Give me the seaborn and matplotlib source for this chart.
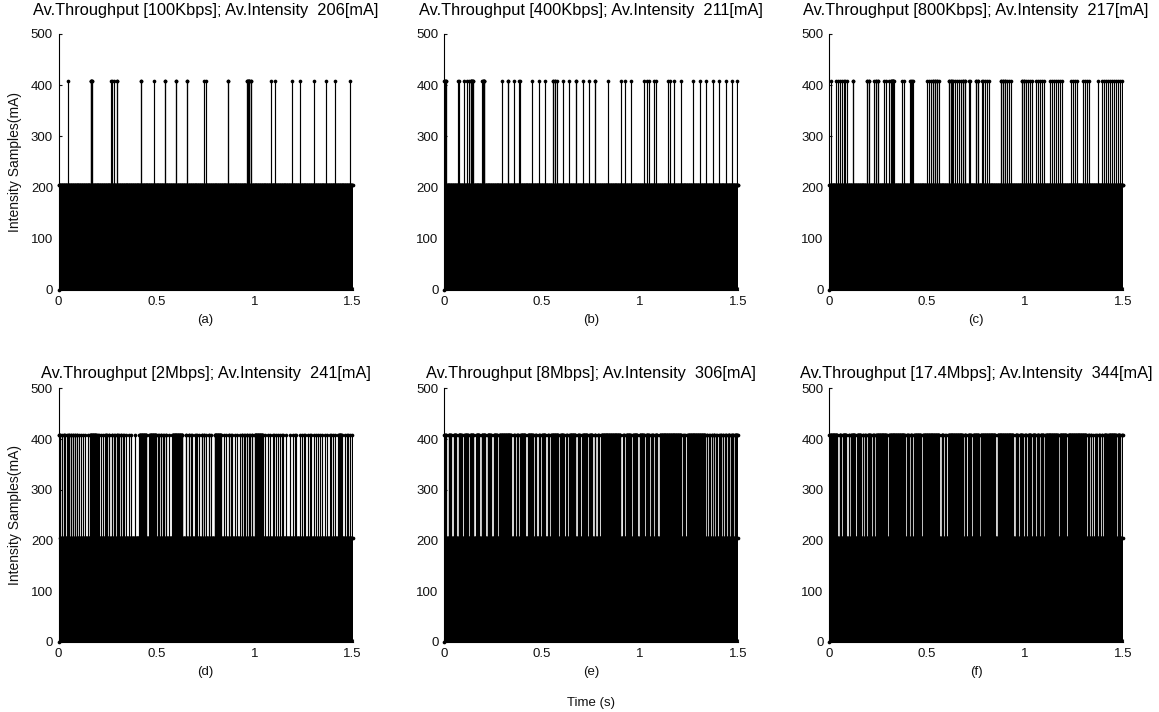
import numpy as np
import matplotlib
matplotlib.use("Agg")
import matplotlib.pyplot as plt
import seaborn as sns

# sampling of the current trace
DT = 0.002          # s between samples
T_END = 1.5         # s
BASE = 205          # mA, idle level
PEAK = 408          # mA, transmit level

throughput = ["100Kbps", "400Kbps", "800Kbps", "2Mbps", "8Mbps", "17.4Mbps"]
avg_intensity = [206, 211, 217, 241, 306, 344]
panel_tags = ["(a)", "(b)", "(c)", "(d)", "(e)", "(f)"]

# instants at PEAK level (s); a pair (t0, t1) is a burst of consecutive samples
peaks_a = [0.050, (0.164, 0.171), 0.271, 0.282, 0.297, 0.421, 0.486, 0.543, 0.599,
           0.657, 0.742, 0.752, 0.865, (0.963, 0.973), 0.981, 1.083, 1.106, 1.191,
           1.234, 1.305, 1.365, 1.412, 1.487]
peaks_b = [(0.002, 0.010), 0.073, 0.104, 0.116, 0.126, (0.136, 0.147), (0.196, 0.206),
           0.298, 0.325, 0.356, 0.385, 0.448, 0.484, 0.514, 0.555, 0.565, 0.576, 0.608,
           0.640, 0.673, 0.708, 0.742, 0.771, 0.838, 0.902, 0.926, 0.954, 1.018, 1.035,
           1.049, 1.073, 1.085, 1.144, 1.151, 1.176, 1.210, 1.268, 1.304, 1.337, 1.370,
           1.403, 1.437, 1.467, 1.495]
peaks_c = [0.009, 0.036, 0.046, 0.056, 0.068, 0.079, 0.090, 0.121, 0.193, 0.203, 0.230,
           0.241, 0.251, 0.282, 0.292, 0.304, (0.316, 0.329), 0.372, 0.384, 0.415, 0.427,
           0.500, 0.510, 0.520, 0.531, 0.541, 0.551, 0.562, 0.611, 0.621, 0.631, 0.642,
           0.652, 0.662, 0.672, 0.683, 0.693, 0.717, 0.751, 0.761, 0.783, 0.794, 0.804,
           0.814, 0.879, 0.889, 0.899, 0.910, 0.920, 0.930, 0.985, 0.995, 1.005, 1.015,
           1.026, 1.036, 1.056, 1.067, 1.077, 1.087, 1.097, 1.128, 1.138, 1.148, 1.159,
           1.169, 1.179, 1.190, 1.234, 1.244, 1.254, 1.265, 1.295, 1.306, 1.316, 1.326,
           1.371, 1.391, 1.401, 1.411, 1.422, 1.432, 1.442, 1.452, 1.463, 1.473, 1.483,
           1.493]
peaks_d = [(0.000, 0.009), 0.020, 0.027, 0.034, 0.045, 0.055, 0.063, 0.075, 0.085, 0.095,
           0.106, 0.114, 0.126, 0.136, 0.148, (0.160, 0.194), 0.205, 0.216, 0.228, 0.239,
           0.245, 0.259, 0.273, 0.285, 0.297, 0.307, 0.319, 0.331, 0.344, 0.358, 0.370,
           0.390, (0.412, 0.447), (0.464, 0.498), 0.511, 0.523, 0.535, 0.549, 0.562,
           (0.580, 0.631), 0.651, 0.665, 0.674, 0.682, 0.699, 0.708, 0.716, 0.733, 0.741,
           0.750, 0.767, 0.780, (0.796, 0.830), 0.842, 0.856, 0.869, 0.878, 0.886, 0.898,
           0.910, 0.924, 0.937, 0.949, 0.961, 0.975, 0.987, (1.000, 1.043), 1.057, 1.069,
           1.081, 1.094, 1.103, 1.111, 1.120, 1.128, 1.137, 1.145, 1.162, 1.180, 1.197,
           1.205, 1.214, 1.231, 1.244, 1.252, 1.261, 1.273, 1.282, 1.290, 1.307, 1.316,
           1.324, 1.336, 1.347, 1.358, 1.370, 1.384, 1.392, 1.401, 1.412, (1.427, 1.444),
           1.461, 1.470, 1.478, 1.487, 1.495]
# idle stretches (s) inside otherwise busy traces
idle_e = [(0.013, 0.021), (0.039, 0.047), (0.064, 0.072), (0.093, 0.101), (0.124, 0.132),
          (0.153, 0.161), (0.182, 0.190), (0.212, 0.220), (0.243, 0.251), (0.272, 0.280),
          (0.345, 0.353), (0.362, 0.370), (0.380, 0.388), (0.417, 0.425), (0.456, 0.464),
          (0.473, 0.481), (0.490, 0.498), (0.519, 0.527), (0.536, 0.544), (0.584, 0.592),
          (0.613, 0.621), (0.630, 0.638), (0.673, 0.681), (0.695, 0.703), (0.732, 0.740),
          (0.758, 0.766), (0.775, 0.783), (0.792, 0.800), (0.903, 0.911), (0.920, 0.928),
          (0.954, 0.962), (0.988, 0.996), (1.022, 1.030), (1.048, 1.056), (1.068, 1.076),
          (1.090, 1.098), (1.211, 1.217), (1.223, 1.229), (1.234, 1.240), (1.335, 1.341),
          (1.347, 1.353), (1.359, 1.365), (1.370, 1.374), (1.381, 1.387), (1.393, 1.399),
          (1.404, 1.408), (1.415, 1.421), (1.427, 1.433), (1.441, 1.447), (1.458, 1.464),
          (1.475, 1.481)]
idle_f = [(0.045, 0.051), (0.062, 0.068), (0.091, 0.097), (0.104, 0.110), (0.135, 0.141),
          (0.164, 0.170), (0.176, 0.182), (0.190, 0.196), (0.215, 0.221), (0.232, 0.238),
          (0.297, 0.303), (0.389, 0.395), (0.408, 0.414), (0.425, 0.431), (0.471, 0.477),
          (0.565, 0.571), (0.585, 0.591), (0.599, 0.605), (0.684, 0.690), (0.701, 0.707),
          (0.727, 0.733), (0.766, 0.772), (0.851, 0.857), (0.943, 0.949), (0.965, 0.971),
          (0.991, 0.997), (1.008, 1.014), (1.033, 1.039), (1.055, 1.061), (1.072, 1.078),
          (1.096, 1.102), (1.170, 1.176), (1.212, 1.218), (1.315, 1.321), (1.328, 1.334),
          (1.340, 1.346), (1.350, 1.354), (1.358, 1.362), (1.369, 1.375), (1.383, 1.389),
          (1.396, 1.402), (1.417, 1.423), (1.465, 1.471), (1.485, 1.491)]

t = np.round(np.arange(0.0, T_END + DT / 2, DT), 6)


def _span(item):
    return item if isinstance(item, tuple) else (item, item)


def trace(peaks=None, idle=None):
    if idle is None:
        y = np.full(t.shape, BASE, dtype=float)
        for item in peaks:
            a, b = _span(item)
            y[(t >= a - DT / 2) & (t <= b + DT / 2)] = PEAK
    else:
        y = np.full(t.shape, PEAK, dtype=float)
        for a, b in idle:
            y[(t >= a - DT / 2) & (t <= b + DT / 2)] = BASE
    y[0] = 0.0
    y[-1] = BASE
    return y


traces = [trace(peaks_a), trace(peaks_b), trace(peaks_c), trace(peaks_d),
          trace(idle=idle_e), trace(idle=idle_f)]

sns.set_theme(style="ticks")
plt.rcParams["font.family"] = ["Liberation Sans", "DejaVu Sans"]

W, H = 1159, 712
fig = plt.figure(figsize=(W / 100, H / 100), dpi=100)

col_left = [58.5, 444.0, 829.0]
ax_w = 294.0
row_span = [(34.0, 290.0), (388.5, 642.0)]
title_pad = [14.0, 7.5]

for k in range(6):
    r, c = divmod(k, 3)
    top, bottom = row_span[r]
    ax = fig.add_axes([col_left[c] / W, 1 - bottom / H, ax_w / W, (bottom - top) / H])
    y = traces[k]
    ax.vlines(t, 0, y, color="black", linewidth=0.85, zorder=2)
    sns.scatterplot(x=t, y=y, ax=ax, s=7, color="black", linewidth=0,
                    legend=False, zorder=3, clip_on=False)
    ax.set_xlim(0, T_END)
    ax.set_ylim(0, 500)
    ax.set_xticks([0, 0.5, 1, 1.5])
    ax.set_xticklabels(["0", "0.5", "1", "1.5"])
    ax.set_yticks([0, 100, 200, 300, 400, 500])
    ax.tick_params(direction="in", length=2.5, width=0.8, labelsize=9.5,
                   colors="#111111", pad=4)
    for side in ("top", "right"):
        ax.spines[side].set_visible(False)
    for side in ("left", "bottom"):
        ax.spines[side].set_color("black")
        ax.spines[side].set_linewidth(0.8)
    ax.set_xlabel("")
    ax.set_ylabel("")
    ax.set_title(f"Av.Throughput [{throughput[k]}]; Av.Intensity  {avg_intensity[k]}[mA]",
                 fontsize=11.8, pad=title_pad[r], color="black")
    ax.text(0.5, -30.0 / (bottom - top), panel_tags[k], transform=ax.transAxes,
            ha="center", va="center", fontsize=9.5, color="#111111")
    if c == 0:
        ax.set_ylabel("Intensity Samples(mA)", fontsize=10, color="#111111")
        ax.yaxis.set_label_coords(-(58.5 - 22.0) / ax_w, 0.5)

fig.text(591.0 / W, 1 - 703.0 / H, "Time (s)", ha="center", va="center",
         fontsize=9.5, color="#111111")

fig.savefig("out.png", dpi=100, facecolor="white")
